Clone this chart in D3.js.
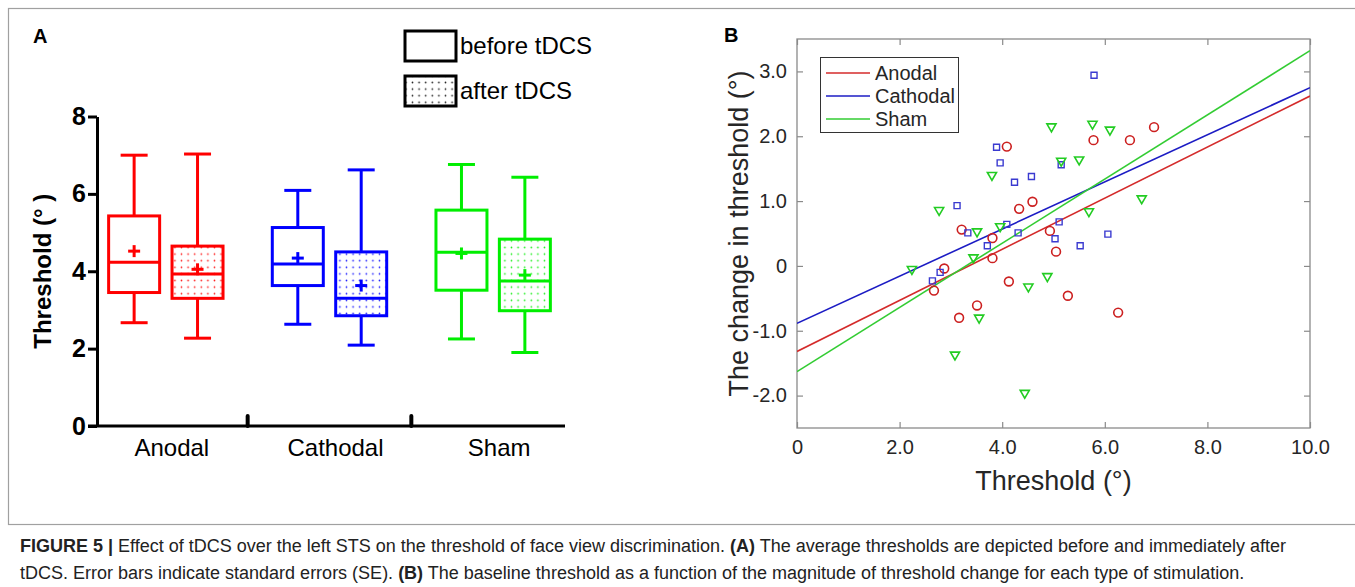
<!DOCTYPE html>
<html><head><meta charset="utf-8">
<script src="https://cdn.jsdelivr.net/npm/d3@7"></script>
<style>
body{margin:0;background:#fff;}
svg{display:block;font-family:"Liberation Sans",Arial,Helvetica,sans-serif;}
</style>
</head><body>
<svg id="chart" width="1355" height="587"></svg>
<script>
// ---------- Panel A data (box plots) ----------
const groups = ["Anodal", "Cathodal", "Sham"];
const phases = ["before tDCS", "after tDCS"];
const groupColors = ["#ff0000", "#0000ff", "#00ee00"];
// order per group: [before, after]
const boxMin    = [[2.67, 2.27], [2.63, 2.09], [2.25, 1.90]];
const boxQ1     = [[3.45, 3.30], [3.63, 2.85], [3.51, 2.98]];
const boxMedian = [[4.23, 3.93], [4.19, 3.30], [4.49, 3.75]];
const boxQ3     = [[5.43, 4.65], [5.13, 4.50], [5.58, 4.83]];
const boxMax    = [[7.00, 7.03], [6.09, 6.62], [6.76, 6.43]];
const boxMean   = [[4.52, 4.05], [4.34, 3.63], [4.46, 3.90]];
const yTicksA = [0, 2, 4, 6, 8];

// ---------- Panel B data (scatter + fits) ----------
const anodalX   = [4.09, 5.78, 6.49, 6.96, 4.59, 4.33, 3.21, 4.93, 3.81, 3.81, 5.05, 2.87, 2.67, 4.13, 3.51, 3.16, 5.28, 6.26];
const anodalY   = [1.84, 1.94, 1.94, 2.14, 0.99, 0.88, 0.56, 0.54, 0.43, 0.12, 0.22, -0.04, -0.38, -0.24, -0.61, -0.80, -0.46, -0.72];
const cathodalX = [3.89, 3.96, 4.24, 4.57, 5.79, 5.15, 3.12, 3.33, 4.09, 4.31, 5.11, 6.06, 5.03, 3.71, 2.79, 2.64, 5.52];
const cathodalY = [1.83, 1.59, 1.29, 1.38, 2.94, 1.56, 0.93, 0.51, 0.64, 0.51, 0.68, 0.49, 0.42, 0.31, -0.10, -0.23, 0.31];
const shamX     = [3.80, 4.96, 5.76, 6.10, 5.15, 5.50, 2.77, 3.51, 3.96, 6.72, 5.69, 3.44, 2.24, 4.51, 4.88, 3.55, 3.08, 4.44];
const shamY     = [1.40, 2.15, 2.19, 2.10, 1.62, 1.64, 0.86, 0.53, 0.61, 1.04, 0.84, 0.13, -0.05, -0.32, -0.16, -0.80, -1.37, -1.96];
const seriesNames = ["Anodal", "Cathodal", "Sham"];
const fitIntercept = [-1.32, -0.885, -1.63];
const fitSlope     = [0.394, 0.3635, 0.495];
const xTicksB = [0, 2, 4, 6, 8, 10];
const yTicksB = [-2, -1, 0, 1, 2, 3];
const lineColorsB = ["#d42b2b", "#1c1cc4", "#33cc33"];
const markColorsB = ["#cc2020", "#3a3ad0", "#22cc22"];

const captionLine1 = [
  {t: "FIGURE 5 | ", b: true},
  {t: "Effect of tDCS over the left STS on the threshold of face view discrimination. ", b: false},
  {t: "(A)", b: true},
  {t: " The average thresholds are depicted before and immediately after", b: false}
];
const captionLine2 = [
  {t: "tDCS. Error bars indicate standard errors (SE). ", b: false},
  {t: "(B)", b: true},
  {t: " The baseline threshold as a function of the magnitude of threshold change for each type of stimulation.", b: false}
];

const svg = d3.select("#chart");

// outer figure frame
svg.append("rect").attr("x", 8.5).attr("y", 8.5).attr("width", 1360).attr("height", 516)
  .attr("fill", "none").attr("stroke", "#a0a0a0").attr("stroke-width", 1.2);

// ================= PANEL A =================
const gA = svg.append("g");
const yA = d3.scaleLinear().domain([0, 8]).range([426, 116.5]);
const xA = d3.scaleBand().domain(groups).range([84, 575]);
const sub = d3.scalePoint().domain(phases).range([-31.7, 31.7]);
const boxW = 51, capW = 27;

// dotted patterns
const defs = svg.append("defs");
groupColors.concat(["#000"]).forEach((c, i) => {
  const p = defs.append("pattern").attr("id", "dots" + i).attr("patternUnits", "userSpaceOnUse")
    .attr("width", 6.6).attr("height", 6.6);
  p.append("rect").attr("width", 6.6).attr("height", 6.6).attr("fill", "#fff");
  p.append("circle").attr("cx", 3.3).attr("cy", 3.3).attr("r", 0.85).attr("fill", c).attr("opacity", 0.85);
});

gA.append("text").attr("x", 33).attr("y", 43).attr("font-size", 20).attr("font-weight", "bold").text("A");

// y axis
const axA = gA.append("g").attr("transform", "translate(97,0)")
  .call(d3.axisLeft(yA).tickValues(yTicksA).tickSize(9).tickSizeOuter(0).tickPadding(2).tickFormat(d3.format("d")));
axA.select(".domain").attr("stroke", "#000").attr("stroke-width", 3);
axA.selectAll(".tick line").attr("stroke", "#000").attr("stroke-width", 3);
axA.selectAll(".tick text").attr("font-size", 25).attr("font-weight", "bold").attr("fill", "#000")
  .attr("font-family", "'Liberation Sans',Arial,sans-serif");

gA.append("text").attr("transform", `translate(51,${(yA(0) + yA(8)) / 2}) rotate(-90)`)
  .attr("text-anchor", "middle").attr("font-size", 24).attr("font-weight", "bold").text("Threshold (° )");

// x axis line
gA.append("line").attr("x1", 88).attr("x2", 565).attr("y1", yA(0)).attr("y2", yA(0))
  .attr("stroke", "#000").attr("stroke-width", 3);
groups.slice(1).forEach(g => {
  const xx = xA(g);
  gA.append("line").attr("x1", xx).attr("x2", xx).attr("y1", yA(0)).attr("y2", yA(0) - 10)
    .attr("stroke", "#000").attr("stroke-width", 4).attr("stroke-linecap", "round");
});
groups.forEach(g => {
  gA.append("text").attr("x", xA(g) + xA.bandwidth() / 2 + 6).attr("y", 456)
    .attr("text-anchor", "middle").attr("font-size", 24).text(g);
});

// boxes
groups.forEach((g, gi) => {
  phases.forEach((ph, pi) => {
    const cx = xA(g) + xA.bandwidth() / 2 + sub(ph);
    const col = groupColors[gi];
    const bg = gA.append("g").attr("stroke", col).attr("stroke-width", 3).attr("fill", "none");
    bg.append("line").attr("x1", cx).attr("x2", cx).attr("y1", yA(boxMax[gi][pi])).attr("y2", yA(boxQ3[gi][pi]));
    bg.append("line").attr("x1", cx).attr("x2", cx).attr("y1", yA(boxQ1[gi][pi])).attr("y2", yA(boxMin[gi][pi]));
    bg.append("line").attr("x1", cx - capW / 2).attr("x2", cx + capW / 2).attr("y1", yA(boxMax[gi][pi])).attr("y2", yA(boxMax[gi][pi]));
    bg.append("line").attr("x1", cx - capW / 2).attr("x2", cx + capW / 2).attr("y1", yA(boxMin[gi][pi])).attr("y2", yA(boxMin[gi][pi]));
    bg.append("rect").attr("x", cx - boxW / 2).attr("y", yA(boxQ3[gi][pi]))
      .attr("width", boxW).attr("height", yA(boxQ1[gi][pi]) - yA(boxQ3[gi][pi]))
      .attr("fill", pi === 1 ? `url(#dots${gi})` : "#fff");
    bg.append("line").attr("x1", cx - boxW / 2).attr("x2", cx + boxW / 2)
      .attr("y1", yA(boxMedian[gi][pi])).attr("y2", yA(boxMedian[gi][pi]));
    const my = yA(boxMean[gi][pi]);
    bg.append("line").attr("x1", cx - 6).attr("x2", cx + 6).attr("y1", my).attr("y2", my);
    bg.append("line").attr("x1", cx).attr("x2", cx).attr("y1", my - 6).attr("y2", my + 6);
  });
});

// legend A
phases.forEach((ph, i) => {
  const ly = 31 + i * 45;
  gA.append("rect").attr("x", 405).attr("y", ly).attr("width", 51).attr("height", 30)
    .attr("fill", i === 1 ? "url(#dots3)" : "#fff").attr("stroke", "#000").attr("stroke-width", 3);
  gA.append("text").attr("x", 460).attr("y", ly + 23).attr("font-size", 24).text(ph);
});

// ================= PANEL B =================
const gB = svg.append("g");
const xB = d3.scaleLinear().domain([0, 10]).range([797, 1310]);
const yB = d3.scaleLinear().domain([-2.5, 3.5]).range([428, 39]);
const frameCol = "#8a8a8a", labCol = "#262626";

gB.append("text").attr("x", 724).attr("y", 42).attr("font-size", 20).attr("font-weight", "bold").text("B");

defs.append("clipPath").attr("id", "clipB").append("rect")
  .attr("x", xB(0)).attr("y", yB(3.5)).attr("width", xB(10) - xB(0)).attr("height", yB(-2.5) - yB(3.5));

function styleAxis(a, showText) {
  a.select(".domain").remove();
  a.selectAll(".tick line").attr("stroke", frameCol).attr("stroke-width", 1.2);
  a.selectAll(".tick text").attr("fill", labCol).attr("font-size", 20)
    .attr("font-family", "'Liberation Sans',Arial,sans-serif");
  if (!showText) a.selectAll(".tick text").remove();
}
const fmtB = d => d === 0 ? "0" : d.toFixed(1);
styleAxis(gB.append("g").attr("transform", `translate(0,${yB(-2.5)})`)
  .call(d3.axisBottom(xB).tickValues(xTicksB).tickSizeInner(-6).tickSizeOuter(0).tickPadding(12).tickFormat(fmtB)), true);
styleAxis(gB.append("g").attr("transform", `translate(0,${yB(3.5)})`)
  .call(d3.axisTop(xB).tickValues(xTicksB).tickSizeInner(-6).tickSizeOuter(0)), false);
styleAxis(gB.append("g").attr("transform", `translate(${xB(0)},0)`)
  .call(d3.axisLeft(yB).tickValues(yTicksB).tickSizeInner(-6).tickSizeOuter(0).tickPadding(10).tickFormat(fmtB)), true);
styleAxis(gB.append("g").attr("transform", `translate(${xB(10)},0)`)
  .call(d3.axisRight(yB).tickValues(yTicksB).tickSizeInner(-6).tickSizeOuter(0)), false);

gB.append("rect").attr("x", xB(0)).attr("y", yB(3.5)).attr("width", xB(10) - xB(0)).attr("height", yB(-2.5) - yB(3.5))
  .attr("fill", "none").attr("stroke", frameCol).attr("stroke-width", 1.3);

gB.append("text").attr("x", (xB(0) + xB(10)) / 2).attr("y", 490).attr("text-anchor", "middle")
  .attr("font-size", 27).attr("fill", labCol).text("Threshold (°)");
gB.append("text").attr("transform", `translate(748,${(yB(3.5) + yB(-2.5)) / 2}) rotate(-90)`)
  .attr("text-anchor", "middle").attr("font-size", 27).attr("fill", labCol).text("The change in threshold (°)");

// fit lines
const plot = gB.append("g").attr("clip-path", "url(#clipB)");
seriesNames.forEach((s, i) => {
  const f = x => fitIntercept[i] + fitSlope[i] * x;
  plot.append("line").attr("x1", xB(0)).attr("y1", yB(f(0))).attr("x2", xB(10)).attr("y2", yB(f(10)))
    .attr("stroke", lineColorsB[i]).attr("stroke-width", 1.6);
});

// markers
const tri = d3.symbol().type(d3.symbolTriangle).size(36)();
const sq = d3.symbol().type(d3.symbolSquare).size(36)();
anodalX.forEach((v, i) => {
  plot.append("circle").attr("cx", xB(v)).attr("cy", yB(anodalY[i])).attr("r", 4.4)
    .attr("fill", "none").attr("stroke", markColorsB[0]).attr("stroke-width", 1.6);
});
cathodalX.forEach((v, i) => {
  plot.append("path").attr("d", sq).attr("transform", `translate(${xB(v)},${yB(cathodalY[i])})`)
    .attr("fill", "none").attr("stroke", markColorsB[1]).attr("stroke-width", 1.4);
});
shamX.forEach((v, i) => {
  plot.append("path").attr("d", tri).attr("transform", `translate(${xB(v)},${yB(shamY[i])}) rotate(180)`)
    .attr("fill", "none").attr("stroke", markColorsB[2]).attr("stroke-width", 1.6);
});

// legend B
gB.append("rect").attr("x", 820.5).attr("y", 57.5).attr("width", 138).attr("height", 75)
  .attr("fill", "#fff").attr("stroke", "#333").attr("stroke-width", 1);
seriesNames.forEach((s, i) => {
  const ly = 73 + i * 23;
  gB.append("line").attr("x1", 826).attr("x2", 870).attr("y1", ly).attr("y2", ly)
    .attr("stroke", lineColorsB[i]).attr("stroke-width", 1.6);
  gB.append("text").attr("x", 875).attr("y", ly + 7).attr("font-size", 20).attr("fill", labCol).text(s);
});

// ================= CAPTION =================
[[captionLine1, 552], [captionLine2, 579]].forEach(([parts, yy]) => {
  const t = svg.append("text").attr("x", 20).attr("y", yy).attr("font-size", 18).attr("fill", "#222");
  parts.forEach(p => t.append("tspan").attr("font-weight", p.b ? "bold" : "normal").text(p.t));
});
</script>
</body></html>
